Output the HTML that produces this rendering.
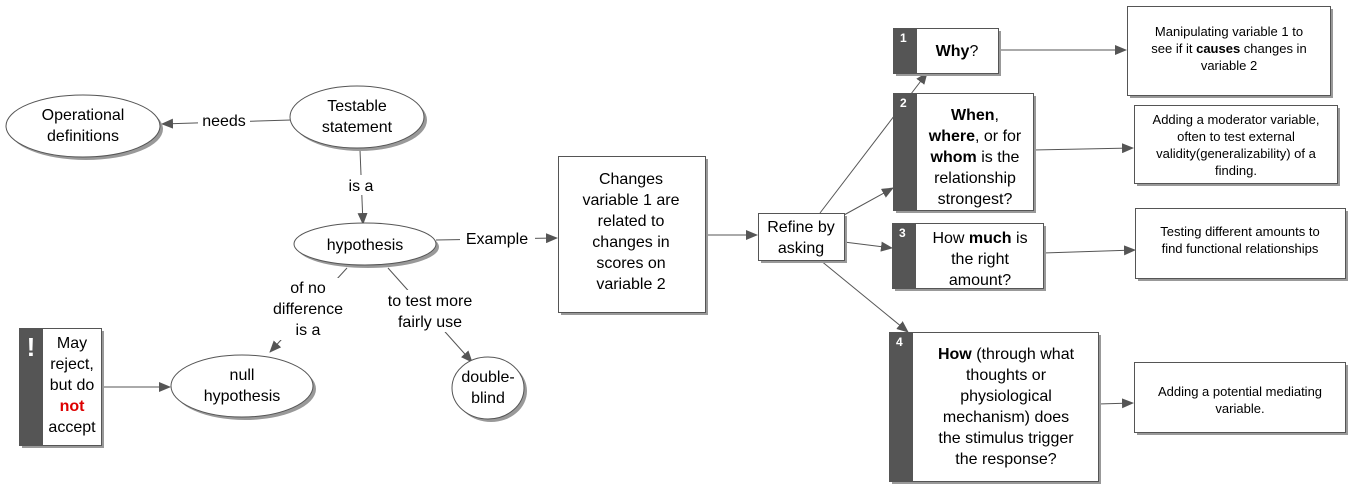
<!DOCTYPE html>
<html><head><style>body{margin:0;background:#fff}svg{display:block}text{font-family:"Liberation Sans",sans-serif;fill:#000}</style></head><body>
<svg width="1354" height="489" viewBox="0 0 1354 489">
<defs><marker id="a" markerWidth="12" markerHeight="10" refX="11" refY="5" orient="auto" markerUnits="userSpaceOnUse"><path d="M0,0 L12,5 L0,10 Z" fill="#555"/></marker></defs>
<g stroke="#555" stroke-width="1" fill="none">
<line x1="291" y1="120" x2="162" y2="124" marker-end="url(#a)"/>
<line x1="360" y1="150" x2="363" y2="224" marker-end="url(#a)"/>
<line x1="436" y1="240" x2="557" y2="238" marker-end="url(#a)"/>
<line x1="347" y1="268" x2="270" y2="352" marker-end="url(#a)"/>
<line x1="388" y1="268" x2="472" y2="362" marker-end="url(#a)"/>
<line x1="101" y1="387" x2="170" y2="387" marker-end="url(#a)"/>
<line x1="705" y1="235" x2="757" y2="235" marker-end="url(#a)"/>
<line x1="820" y1="213" x2="927" y2="73" marker-end="url(#a)"/>
<line x1="844" y1="215" x2="893" y2="188" marker-end="url(#a)"/>
<line x1="844" y1="242" x2="892" y2="248" marker-end="url(#a)"/>
<line x1="820" y1="260" x2="908" y2="332" marker-end="url(#a)"/>
<line x1="998" y1="50" x2="1126" y2="50" marker-end="url(#a)"/>
<line x1="1033" y1="150" x2="1133" y2="148" marker-end="url(#a)"/>
<line x1="1043" y1="253" x2="1135" y2="250" marker-end="url(#a)"/>
<line x1="1098" y1="404" x2="1133" y2="403" marker-end="url(#a)"/>
</g>
<g fill="#fff">
<rect x="198" y="110" width="52" height="20"/><rect x="343" y="175" width="36" height="20"/>
<rect x="460" y="229" width="75" height="20"/><rect x="266" y="278" width="84" height="62"/>
<rect x="380" y="290" width="100" height="42"/>
</g>
<g font-size="16" text-anchor="middle">
<text x="224" y="126">needs</text><text x="361" y="191">is a</text><text x="497" y="244">Example</text>
<text x="308" y="293">of no</text><text x="308" y="314">difference</text><text x="308" y="335">is a</text>
<text x="430" y="306">to test more</text><text x="430" y="327">fairly use</text>
</g>
<g stroke="#555" stroke-width="1">
<ellipse cx="86" cy="129" rx="77" ry="31" fill="#999" stroke="none"/><ellipse cx="83" cy="126" rx="77" ry="31" fill="#fff"/>
<ellipse cx="360" cy="120" rx="67" ry="31" fill="#999" stroke="none"/><ellipse cx="357" cy="117" rx="67" ry="31" fill="#fff"/>
<ellipse cx="368" cy="247" rx="71" ry="21" fill="#999" stroke="none"/><ellipse cx="365" cy="244" rx="71" ry="21" fill="#fff"/>
<ellipse cx="245" cy="389" rx="71" ry="31" fill="#999" stroke="none"/><ellipse cx="242" cy="386" rx="71" ry="31" fill="#fff"/>
<ellipse cx="491" cy="391" rx="36" ry="31" fill="#999" stroke="none"/><ellipse cx="488" cy="388" rx="36" ry="31" fill="#fff"/>
</g>
<g font-size="16" text-anchor="middle">
<text x="83" y="120">Operational</text><text x="83" y="141">definitions</text>
<text x="357" y="111">Testable</text><text x="357" y="132">statement</text>
<text x="365" y="250">hypothesis</text>
<text x="242" y="380">null</text><text x="242" y="401">hypothesis</text>
<text x="488" y="382">double-</text><text x="488" y="403">blind</text>
</g>
<g stroke="#555" stroke-width="1">
<rect x="22" y="331" width="82" height="117" fill="#999" stroke="none"/><rect x="19.5" y="328.5" width="82" height="117" fill="#fff"/><rect x="19.5" y="328.5" width="23" height="117" fill="#555"/>
<rect x="561" y="159" width="147" height="156" fill="#999" stroke="none"/><rect x="558.5" y="156.5" width="147" height="156" fill="#fff"/>
<rect x="761" y="216" width="86" height="47" fill="#999" stroke="none"/><rect x="758.5" y="213.5" width="86" height="47" fill="#fff"/>
<rect x="896" y="31" width="105" height="45" fill="#999" stroke="none"/><rect x="893.5" y="28.5" width="105" height="45" fill="#fff"/><rect x="893.5" y="28.5" width="23" height="45" fill="#555"/>
<rect x="896" y="96" width="140" height="117" fill="#999" stroke="none"/><rect x="893.5" y="93.5" width="140" height="117" fill="#fff"/><rect x="893.5" y="93.5" width="23" height="117" fill="#555"/>
<rect x="895" y="226" width="151" height="65" fill="#999" stroke="none"/><rect x="892.5" y="223.5" width="151" height="65" fill="#fff"/><rect x="892.5" y="223.5" width="23" height="65" fill="#555"/>
<rect x="892" y="335" width="209" height="149" fill="#999" stroke="none"/><rect x="889.5" y="332.5" width="209" height="149" fill="#fff"/><rect x="889.5" y="332.5" width="23" height="149" fill="#555"/>
<rect x="1130" y="9" width="203" height="89" fill="#999" stroke="none"/><rect x="1127.5" y="6.5" width="203" height="89" fill="#fff"/>
<rect x="1137" y="108" width="203" height="78" fill="#999" stroke="none"/><rect x="1134.5" y="105.5" width="203" height="78" fill="#fff"/>
<rect x="1138" y="211" width="210" height="70" fill="#999" stroke="none"/><rect x="1135.5" y="208.5" width="210" height="70" fill="#fff"/>
<rect x="1137" y="365" width="211" height="70" fill="#999" stroke="none"/><rect x="1134.5" y="362.5" width="211" height="70" fill="#fff"/>
</g>
<g font-size="12" font-weight="bold">
<text x="900" y="42" style="fill:#fff">1</text><text x="900" y="107" style="fill:#fff">2</text><text x="899" y="237" style="fill:#fff">3</text><text x="896" y="346" style="fill:#fff">4</text>
</g>
<text x="31" y="356" font-size="26" font-weight="bold" text-anchor="middle" style="fill:#fff">!</text>
<g font-size="16" text-anchor="middle">
<text x="72" y="348">May</text><text x="72" y="369">reject,</text><text x="72" y="390">but do</text>
<text x="72" y="411" font-weight="bold" style="fill:#d00">not</text><text x="72" y="432">accept</text>
<text x="631" y="184">Changes</text><text x="631" y="205">variable 1 are</text><text x="631" y="226">related to</text><text x="631" y="247">changes in</text><text x="631" y="268">scores on</text><text x="631" y="289">variable 2</text>
<text x="801" y="232">Refine by</text><text x="801" y="253">asking</text>
<text x="957" y="56"><tspan font-weight="bold">Why</tspan>?</text>
<text x="975" y="120"><tspan font-weight="bold">When</tspan>,</text>
<text x="975" y="141"><tspan font-weight="bold">where</tspan>, or for</text>
<text x="975" y="162"><tspan font-weight="bold">whom</tspan> is the</text>
<text x="975" y="183">relationship</text><text x="975" y="204">strongest?</text>
<text x="980" y="243">How <tspan font-weight="bold">much</tspan> is</text><text x="980" y="264">the right</text><text x="980" y="285">amount?</text>
<text x="1006" y="359"><tspan font-weight="bold">How</tspan> (through what</text>
<text x="1006" y="380">thoughts or</text><text x="1006" y="401">physiological</text><text x="1006" y="422">mechanism) does</text>
<text x="1006" y="443">the stimulus trigger</text><text x="1006" y="464">the response?</text>
</g>
<g font-size="13" text-anchor="middle">
<text x="1229" y="36">Manipulating  variable 1 to</text>
<text x="1229" y="53">see if it <tspan font-weight="bold">causes</tspan> changes in</text>
<text x="1229" y="70">variable 2</text>
<text x="1236" y="124">Adding a moderator variable,</text>
<text x="1236" y="141">often  to test external</text>
<text x="1236" y="158">validity(generalizability) of a</text>
<text x="1236" y="175">finding.</text>
<text x="1240" y="236">Testing different amounts to</text>
<text x="1240" y="253">find functional relationships</text>
<text x="1240" y="396">Adding a potential mediating</text>
<text x="1240" y="413">variable.</text>
</g>
</svg>
</body></html>
